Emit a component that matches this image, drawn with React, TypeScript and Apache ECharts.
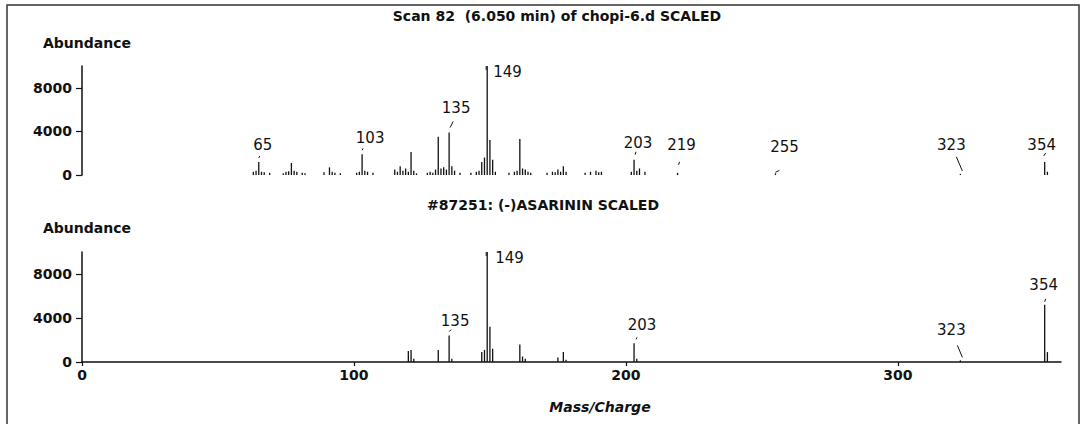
import React, { useEffect, useRef } from "react";
import * as echarts from "echarts";

// ---------- data ----------
const topTitle = "Scan 82  (6.050 min) of chopi-6.d SCALED";
const libTitle = "#87251: (-)ASARININ SCALED";
const yAxisTitle = "Abundance";
const xAxisTitle = "Mass/Charge";

const xTicks = [0, 100, 200, 300];
const yTicks = [0, 4000, 8000];

// sample scan: m/z and abundance
const topMass = [
  63, 64, 65, 66, 67, 69, 74, 75, 76, 77, 78, 79, 81, 82, 89, 91, 92, 93, 95,
  101, 102, 103, 104, 105, 107, 115, 116, 117, 118, 119, 120, 121, 122, 123,
  127, 128, 129, 130, 131, 132, 133, 134, 135, 136, 137, 139, 143, 145, 146,
  147, 148, 149, 150, 151, 152, 157, 159, 160, 161, 162, 163, 164, 165, 171,
  173, 174, 175, 176, 177, 178, 185, 187, 189, 190, 191, 202, 203, 204, 205,
  207, 219, 255, 323, 354, 355,
];
const topAbund = [
  300, 400, 1200, 300, 250, 200, 150, 300, 350, 1100, 400, 300, 200, 150, 250,
  700, 300, 200, 150, 200, 300, 1900, 400, 300, 200, 500, 300, 800, 400, 600,
  300, 2100, 400, 150, 200, 300, 200, 500, 3500, 600, 700, 500, 3900, 800, 400,
  200, 200, 300, 400, 1200, 1600, 10000, 3200, 1400, 300, 200, 300, 400, 3300,
  600, 500, 300, 200, 200, 300, 250, 500, 300, 800, 300, 200, 300, 400, 250,
  300, 300, 1400, 400, 600, 300, 200, 150, 100, 1200, 300,
];
const topLabels = [65, 103, 135, 149, 203, 219, 255, 323, 354];

// library spectrum
const libMass = [
  120, 121, 122, 131, 135, 136, 147, 148, 149, 150, 151, 161, 162, 163, 175,
  177, 178, 203, 204, 323, 354, 355,
];
const libAbund = [
  1000, 1100, 300, 1100, 2400, 300, 900, 1100, 10000, 3200, 1200, 1600, 500,
  300, 400, 900, 200, 1700, 300, 150, 5200, 900,
];
const libLabels = [135, 149, 203, 323, 354];

// ---------- label placement (pixel offsets from the peak top) ----------
type LabelStyle = { dx: number; dy: number; align?: string; lead?: number[] };
const topLabelStyle: Record<number, LabelStyle> = {
  65: { dx: 4, dy: -17, lead: [0, -4, 1, -6] },
  103: { dx: 8, dy: -16, lead: [0, -4, 1, -6] },
  135: { dx: 7, dy: -24, lead: [1, -5, 4, -11] },
  149: { dx: 6, dy: 6, align: "left", lead: [-1, 0, -1, 4] },
  203: { dx: 4, dy: -17, lead: [1, -5, 2, -8] },
  219: { dx: 4, dy: -28, lead: [1, -8, 2, -11] },
  255: { dx: 9, dy: -26, lead: [0, -1, 4, -3] },
  323: { dx: -9, dy: -29, lead: [-4, -17, 2, -3] },
  354: { dx: -3, dy: -17, lead: [-1, -6, 1, -9] },
};
const libLabelStyle: Record<number, LabelStyle> = {
  135: { dx: 6, dy: -15, lead: [0, -4, 2, -6] },
  149: { dx: 8, dy: 6, align: "left", lead: [-1, 0, -1, 4] },
  203: { dx: 8, dy: -18, lead: [2, -4, 3, -6] },
  323: { dx: -9, dy: -30, lead: [-3, -15, 2, -3] },
  354: { dx: -1, dy: -20, lead: [0, -3, 1, -6] },
};

const INK = "#111";
const labelFont = '15px "DejaVu Sans", sans-serif';
const boldFont = 'bold 14px "DejaVu Sans", sans-serif';

function stems(mass: number[], ab: number[]) {
  return mass.map((m, i) => [m, ab[i]]);
}

function labelData(labels: number[], mass: number[], ab: number[]) {
  return labels.map((m) => {
    const i = mass.indexOf(m);
    return [m, i >= 0 ? ab[i] : 0];
  });
}

function stemSeries(idx: number, data: number[][]) {
  return {
    type: "custom",
    xAxisIndex: idx,
    yAxisIndex: idx,
    data,
    encode: { x: 0, y: 1 },
    silent: true,
    renderItem: (_p: any, api: any) => {
      const b = api.coord([api.value(0), 0]);
      const t = api.coord([api.value(0), api.value(1)]);
      return {
        type: "line",
        shape: { x1: b[0], y1: b[1], x2: t[0], y2: t[1] },
        style: { stroke: INK, lineWidth: 1.3 },
      };
    },
  };
}

function labelSeries(idx: number, data: number[][], st: Record<number, LabelStyle>) {
  return {
    type: "custom",
    xAxisIndex: idx,
    yAxisIndex: idx,
    data,
    encode: { x: 0, y: 1 },
    clip: false,
    silent: true,
    renderItem: (_p: any, api: any) => {
      const m = api.value(0);
      const t = api.coord([m, api.value(1)]);
      const s = st[m] || { dx: 0, dy: -16 };
      const children: any[] = [
        {
          type: "text",
          x: t[0] + s.dx,
          y: t[1] + s.dy,
          style: {
            text: String(m),
            font: labelFont,
            fill: INK,
            textAlign: s.align || "center",
            textVerticalAlign: "middle",
          },
        },
      ];
      if (s.lead) {
        children.push({
          type: "line",
          shape: {
            x1: t[0] + s.lead[0],
            y1: t[1] + s.lead[1],
            x2: t[0] + s.lead[2],
            y2: t[1] + s.lead[3],
          },
          style: { stroke: INK, lineWidth: 1 },
        });
      }
      return { type: "group", children };
    },
  };
}

export default function App() {
  const ref = useRef<HTMLDivElement>(null);
  useEffect(() => {
    if (!ref.current) return;
    const chart = echarts.init(ref.current, undefined, { renderer: "svg" });

    const yAxis = (idx: number) => ({
      type: "value",
      gridIndex: idx,
      min: 0,
      max: 10000,
      splitLine: { show: false },
      axisLine: { show: true, lineStyle: { color: INK, width: 1.5 } },
      axisTick: {
        show: true,
        customValues: yTicks,
        length: 6,
        lineStyle: { color: INK, width: 1.2 },
      },
      axisLabel: {
        customValues: yTicks,
        formatter: (v: number) => String(v),
        color: INK,
        fontFamily: "DejaVu Sans",
        fontWeight: "bold",
        fontSize: 14,
        margin: 10,
      },
    });

    const option: any = {
      animation: false,
      backgroundColor: "#fff",
      grid: [
        { left: 82, top: 66, width: 979, height: 109 },
        { left: 82, top: 252, width: 979, height: 110 },
      ],
      xAxis: [
        {
          type: "value",
          gridIndex: 0,
          min: 0,
          max: 360,
          show: false,
        },
        {
          type: "value",
          gridIndex: 1,
          min: 0,
          max: 360,
          splitLine: { show: false },
          axisLine: { show: true, lineStyle: { color: INK, width: 1.5 } },
          axisTick: {
            show: true,
            customValues: xTicks,
            length: 4,
            lineStyle: { color: INK, width: 1.2 },
          },
          axisLabel: {
            customValues: xTicks,
            formatter: (v: number) => String(v),
            color: INK,
            fontFamily: "DejaVu Sans",
            fontWeight: "bold",
            fontSize: 14,
            margin: 6,
          },
        },
      ],
      yAxis: [yAxis(0), yAxis(1)],
      series: [
        stemSeries(0, stems(topMass, topAbund)),
        stemSeries(1, stems(libMass, libAbund)),
        labelSeries(0, labelData(topLabels, topMass, topAbund), topLabelStyle),
        labelSeries(1, labelData(libLabels, libMass, libAbund), libLabelStyle),
      ],
      graphic: [
        {
          type: "rect",
          shape: { x: 7, y: 5, width: 1072, height: 440 },
          style: { fill: "none", stroke: "#333", lineWidth: 1.5 },
          silent: true,
        },
        {
          type: "text",
          x: 557,
          y: 16,
          style: {
            text: topTitle,
            font: boldFont,
            fill: INK,
            textAlign: "center",
            textVerticalAlign: "middle",
          },
        },
        {
          type: "text",
          x: 543,
          y: 205,
          style: {
            text: libTitle,
            font: boldFont,
            fill: INK,
            textAlign: "center",
            textVerticalAlign: "middle",
          },
        },
        {
          type: "text",
          x: 43,
          y: 43,
          style: {
            text: yAxisTitle,
            font: boldFont,
            fill: INK,
            textAlign: "left",
            textVerticalAlign: "middle",
          },
        },
        {
          type: "text",
          x: 43,
          y: 228,
          style: {
            text: yAxisTitle,
            font: boldFont,
            fill: INK,
            textAlign: "left",
            textVerticalAlign: "middle",
          },
        },
        {
          type: "text",
          x: 600,
          y: 407,
          style: {
            text: xAxisTitle,
            font: 'italic bold 14px "DejaVu Sans", sans-serif',
            fill: INK,
            textAlign: "center",
            textVerticalAlign: "middle",
          },
        },
      ],
    };
    chart.setOption(option);
    return () => chart.dispose();
  }, []);

  return (
    <div
      ref={ref}
      style={{ position: "fixed", left: 0, top: 0, width: 1082, height: 424, background: "#fff" }}
    />
  );
}
